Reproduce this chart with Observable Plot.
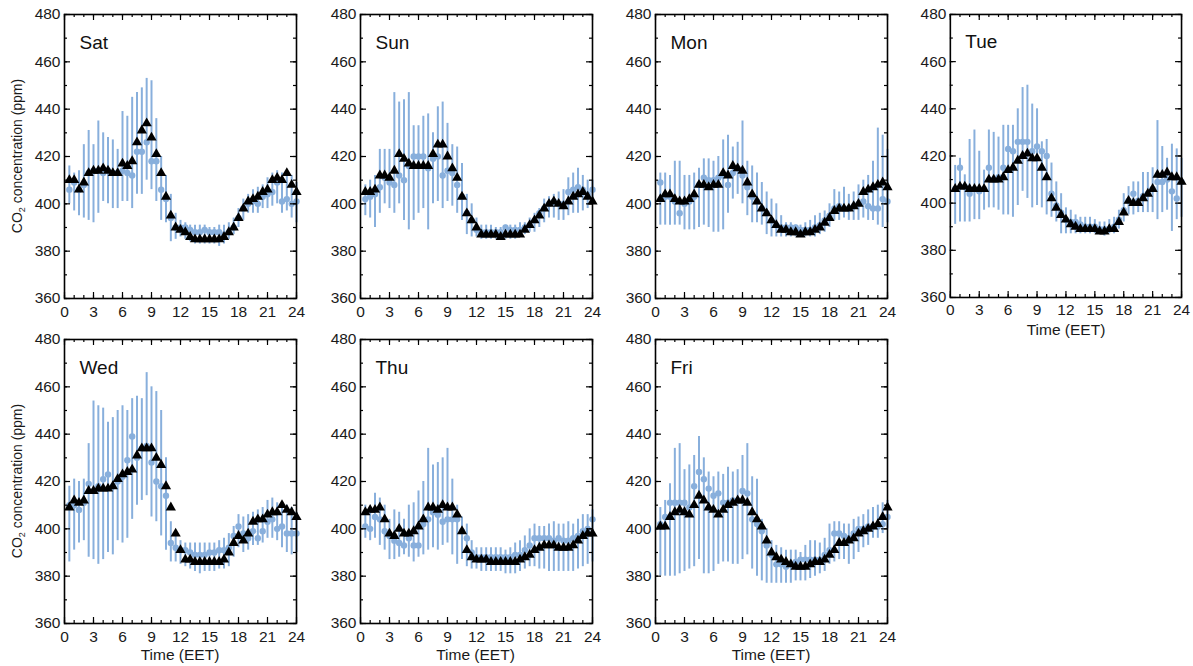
<!DOCTYPE html>
<html><head><meta charset="utf-8">
<script src="https://cdn.jsdelivr.net/npm/d3@7"></script>
<script src="https://cdn.jsdelivr.net/npm/@observablehq/plot@0.6"></script>
<style>
body{margin:0;background:#fff;font-family:"Liberation Sans",Arial,Helvetica,sans-serif;}
#wrap{position:relative;width:1193px;height:666px;overflow:hidden;}
.panel{position:absolute;}
.lab{position:absolute;font-size:15.5px;color:#1a1a1a;white-space:nowrap;}
.ylab{position:absolute;font-size:14px;color:#1a1a1a;white-space:nowrap;transform:translate(-50%,-50%) rotate(-90deg);}
.ylab sub{font-size:9px;}
</style></head><body><div id="wrap"></div>
<script>
// Half-hourly time of day (EET)
const hours = [0.5,1,1.5,2,2.5,3,3.5,4,4.5,5,5.5,6,6.5,7,7.5,8,8.5,9,9.5,10,10.5,11,11.5,12,12.5,13,13.5,14,14.5,15,15.5,16,16.5,17,17.5,18,18.5,19,19.5,20,20.5,21,21.5,22,22.5,23,23.5,24];
const xTickLabels = [0,3,6,9,12,15,18,21,24];
const xMinorTicks = [0,1,2,3,4,5,6,7,8,9,10,11,12,13,14,15,16,17,18,19,20,21,22,23,24];
const yTickLabels = [360,380,400,420,440,460,480];
const yMinorTicks = [360,370,380,390,400,410,420,430,440,450,460,470,480];

const satMedian = [410,410,406,409,413,414,414,415,414,413,413,417,416,418,426,431,434,428,421,413,403,395,390,389,388,386,385,385,385,385,385,385,386,388,390,394,398,401,402,403,405,406,410,411,410,413,408,405];
const satMean   = [406,409,406,408,413,414,414,413,414,413,413,414,413,412,422,422,426,418,418,406,402,394,390,390,390,389,388,388,389,388,388,388,387,388,390,394,398,400,401,400,403,404,405,409,401,402,400,401];
const satLow    = [400,397,395,394,393,392,396,401,400,398,398,401,401,398,404,404,410,406,401,393,392,384,385,386,385,384,383,383,383,383,383,382,383,385,387,390,393,396,396,396,398,398,399,400,396,397,394,392];
const satHigh   = [416,413,414,425,431,425,435,430,428,427,423,439,437,445,447,449,453,452,436,420,412,404,396,393,392,391,391,391,391,390,390,391,391,392,394,398,402,404,406,407,408,411,413,414,413,414,412,409];

const sunMedian = [405,405,406,412,412,411,414,421,419,417,416,416,416,416,421,425,425,420,415,411,403,396,393,390,387,387,387,387,386,387,387,387,387,389,391,393,395,398,400,401,400,399,401,403,404,405,403,401];
const sunMean   = [402,403,404,407,411,409,408,412,410,416,420,420,420,415,419,420,412,414,413,408,403,396,393,389,388,388,388,388,388,390,389,389,389,390,391,393,396,398,400,401,400,400,405,406,407,406,404,406];
const sunLow    = [395,394,390,396,400,398,396,400,393,389,393,396,398,389,400,401,398,401,399,396,393,387,386,386,385,385,385,385,385,385,385,385,386,387,388,388,390,392,394,394,393,393,395,396,396,397,398,400];
const sunHigh   = [408,410,412,423,423,423,447,443,444,447,433,433,437,438,430,441,443,434,425,424,417,404,400,394,391,391,391,390,390,391,391,391,392,392,394,396,398,402,403,404,405,406,411,413,415,412,410,410];

const monMedian = [402,404,404,402,401,401,402,404,408,408,407,408,408,413,412,416,415,414,409,404,401,398,396,393,391,389,389,388,388,387,388,388,389,390,392,394,397,398,398,398,399,400,405,406,407,408,409,407];
const monMean   = [409,403,403,401,396,400,401,403,408,411,410,410,411,412,408,413,415,412,407,403,401,398,396,393,391,390,390,390,390,389,389,389,390,391,393,395,398,399,398,398,399,400,401,399,398,398,402,401];
const monLow    = [391,391,391,391,391,389,389,389,390,391,390,388,388,389,396,402,404,400,395,392,392,391,387,386,386,386,386,386,386,386,386,386,386,387,388,390,393,393,394,393,393,393,394,393,393,391,390,392];
const monHigh   = [413,413,412,418,418,412,412,413,415,419,419,418,420,427,429,424,426,435,418,416,413,409,405,402,400,395,392,392,391,391,392,393,395,396,397,400,406,405,407,404,405,408,410,412,418,432,429,423];

const tueMedian = [406,407,407,406,406,406,406,410,410,410,411,414,415,418,420,421,419,419,415,411,402,398,395,393,391,390,389,389,389,389,388,388,389,389,392,396,401,400,400,402,404,406,412,412,413,411,411,409];
const tueMean   = [406,415,407,404,406,405,406,415,410,411,415,423,422,426,426,426,422,424,422,420,404,399,396,393,392,392,391,390,390,390,389,389,389,390,393,397,401,404,401,403,404,406,409,409,410,405,402,409];
const tueLow    = [391,392,392,392,393,393,397,398,398,397,395,395,394,399,405,402,398,399,398,395,394,392,387,387,387,387,387,387,387,387,387,386,387,387,389,392,395,395,396,396,396,396,393,396,397,388,393,394];
const tueHigh   = [416,419,412,427,431,422,414,431,430,428,433,433,433,440,449,450,442,440,426,427,417,409,404,398,397,395,394,394,394,393,392,392,393,394,397,404,407,409,409,413,413,415,435,424,419,425,423,419];

const wedMedian = [409,412,411,412,416,416,417,417,417,418,421,423,424,425,431,434,434,434,430,427,418,409,398,391,387,387,386,386,386,386,386,386,387,390,394,397,395,398,403,404,404,406,407,407,410,408,407,405];
const wedMean   = [410,410,408,411,419,416,418,421,423,418,420,422,429,439,430,434,435,428,420,418,414,394,392,391,391,390,389,389,389,390,390,391,391,392,397,401,398,396,399,396,399,403,404,400,401,398,398,398];
const wedLow    = [386,391,394,395,388,387,385,387,390,389,395,394,396,404,410,412,414,405,403,397,391,386,386,385,384,383,382,381,382,382,382,383,383,384,388,392,390,391,393,393,394,396,396,395,392,390,389,390];
const wedHigh   = [418,421,420,421,436,454,452,451,445,447,450,452,450,455,456,455,466,460,458,450,430,403,397,395,394,394,394,394,394,394,394,395,396,398,401,406,405,406,407,408,409,412,413,411,410,410,409,407];

const thuMedian = [407,408,408,409,404,398,397,400,398,398,399,401,404,409,409,408,410,409,409,406,399,391,388,387,387,387,386,386,386,386,386,386,387,388,389,391,392,393,393,393,392,392,392,393,395,397,398,398];
const thuMean   = [401,400,405,404,399,397,395,394,393,396,393,393,402,404,407,406,403,404,404,404,399,396,390,388,388,388,388,388,388,388,388,389,389,391,393,396,396,396,396,395,396,395,395,396,397,399,400,404];
const thuLow    = [396,395,396,393,391,387,387,388,389,388,386,388,389,391,392,391,393,394,389,385,387,384,383,383,382,382,382,382,382,381,381,381,382,383,384,384,383,383,382,382,382,382,382,382,383,384,385,386];
const thuHigh   = [410,408,415,413,410,404,408,407,404,410,411,416,420,434,427,428,430,434,421,410,405,402,395,392,392,392,392,392,392,391,392,394,395,397,400,402,401,401,402,403,402,402,403,402,404,406,406,408];

const friMedian = [401,401,405,407,408,407,406,410,414,412,409,408,406,408,410,411,412,412,411,407,404,401,395,390,388,387,386,385,384,384,384,385,386,386,387,389,391,394,394,395,396,398,399,400,401,402,405,409];
const friMean   = [402,405,411,411,411,411,409,418,424,421,417,414,415,411,411,412,412,416,415,404,402,399,393,389,385,385,384,385,386,387,387,387,387,387,389,391,398,398,397,396,398,400,400,401,401,401,402,405];
const friLow    = [380,380,380,380,381,382,383,384,387,381,381,382,385,386,386,385,385,387,389,383,380,378,377,377,377,377,377,377,378,378,378,379,380,381,382,385,386,387,387,385,387,390,392,393,396,396,398,400];
const friHigh   = [409,412,419,434,436,425,427,431,439,430,424,422,424,423,426,424,425,431,436,422,421,404,400,395,393,392,391,391,391,390,393,395,395,394,396,402,403,403,402,402,404,405,406,408,409,410,411,412];

const days = [
  {name:"Sat", med:satMedian, mean:satMean, lo:satLow, hi:satHigh, col:0, row:0, xTitle:false, yTitle:true},
  {name:"Sun", med:sunMedian, mean:sunMean, lo:sunLow, hi:sunHigh, col:1, row:0, xTitle:false, yTitle:false},
  {name:"Mon", med:monMedian, mean:monMean, lo:monLow, hi:monHigh, col:2, row:0, xTitle:false, yTitle:false},
  {name:"Tue", med:tueMedian, mean:tueMean, lo:tueLow, hi:tueHigh, col:3, row:0, xTitle:true, yTitle:false},
  {name:"Wed", med:wedMedian, mean:wedMean, lo:wedLow, hi:wedHigh, col:0, row:1, xTitle:true, yTitle:true},
  {name:"Thu", med:thuMedian, mean:thuMean, lo:thuLow, hi:thuHigh, col:1, row:1, xTitle:true, yTitle:false},
  {name:"Fri", med:friMedian, mean:friMean, lo:friLow, hi:friHigh, col:2, row:1, xTitle:true, yTitle:false}
];

const BLUE = "#88afdc";
const frameLefts = [64, 359.5, 655, 950];
const frameTops = [14, 339];
const FW = 232, FH = 284;
const mL = 45, mR = 12, mT = 10, mB = 30;
const wrap = document.getElementById("wrap");

for (const d of days) {
  const rows = hours.map((t, i) => ({t, med: d.med[i], mean: d.mean[i], lo: d.lo[i], hi: d.hi[i]}));
  const plot = Plot.plot({
    width: mL + FW + mR,
    height: mT + FH + mB,
    marginLeft: mL, marginRight: mR, marginTop: mT, marginBottom: mB,
    style: {fontFamily: '"Liberation Sans", Arial, Helvetica, sans-serif', color: "#1a1a1a", background: "transparent", overflow: "visible"},
    x: {domain: [0, 24], axis: null},
    y: {domain: [360, 480], axis: null},
    marks: [
      Plot.ruleX(rows, {x: "t", y1: "lo", y2: "hi", stroke: BLUE, strokeWidth: 2}),
      Plot.dot(rows, {x: "t", y: "mean", r: 3.2, fill: BLUE, stroke: "none"}),
      Plot.dot(rows, {x: "t", y: "med", r: 3.8, symbol: "triangle", fill: "black", stroke: "none"}),
      // inward ticks, all four sides
      Plot.tickX(xTickLabels, {x: v => v, insetTop: FH - 6, stroke: "black", strokeWidth: 1.2}),
      Plot.tickX(xTickLabels, {x: v => v, insetBottom: FH - 6, stroke: "black", strokeWidth: 1.2}),
      Plot.tickX(xMinorTicks, {x: v => v, insetTop: FH - 3, stroke: "black", strokeWidth: 1.2}),
      Plot.tickX(xMinorTicks, {x: v => v, insetBottom: FH - 3, stroke: "black", strokeWidth: 1.2}),
      Plot.tickY(yTickLabels, {y: v => v, insetRight: FW - 6, stroke: "black", strokeWidth: 1.2}),
      Plot.tickY(yTickLabels, {y: v => v, insetLeft: FW - 6, stroke: "black", strokeWidth: 1.2}),
      Plot.tickY(yMinorTicks, {y: v => v, insetRight: FW - 3, stroke: "black", strokeWidth: 1.2}),
      Plot.tickY(yMinorTicks, {y: v => v, insetLeft: FW - 3, stroke: "black", strokeWidth: 1.2}),
      Plot.frame({stroke: "black", strokeWidth: 1.6}),
      Plot.axisX(xTickLabels, {anchor: "bottom", tickSize: 0, tickPadding: 7, fontSize: 15.5, label: null}),
      Plot.axisY(yTickLabels, {anchor: "left", tickSize: 0, tickPadding: 4, fontSize: 15.5, label: null}),
      Plot.text([d.name], {frameAnchor: "top-left", dx: 15, dy: 28, fontSize: 19, fill: "#111", textAnchor: "start", lineAnchor: "middle"})
    ]
  });
  const left = frameLefts[d.col] - mL, top = frameTops[d.row] - mT;
  const div = document.createElement("div");
  div.className = "panel";
  div.style.left = left + "px";
  div.style.top = top + "px";
  div.appendChild(plot);
  wrap.appendChild(div);

  if (d.xTitle) {
    const t = document.createElement("div");
    t.className = "lab";
    t.textContent = "Time (EET)";
    t.style.left = (frameLefts[d.col] + FW / 2) + "px";
    t.style.top = (frameTops[d.row] + FH + 32 - 9) + "px";
    t.style.transform = "translateX(-50%)";
    wrap.appendChild(t);
  }
  if (d.yTitle) {
    const t = document.createElement("div");
    t.className = "ylab";
    t.innerHTML = "CO<sub>2</sub> concentration (ppm)";
    t.style.left = "18px";
    t.style.top = (frameTops[d.row] + FH / 2) + "px";
    wrap.appendChild(t);
  }
}
</script></body></html>
